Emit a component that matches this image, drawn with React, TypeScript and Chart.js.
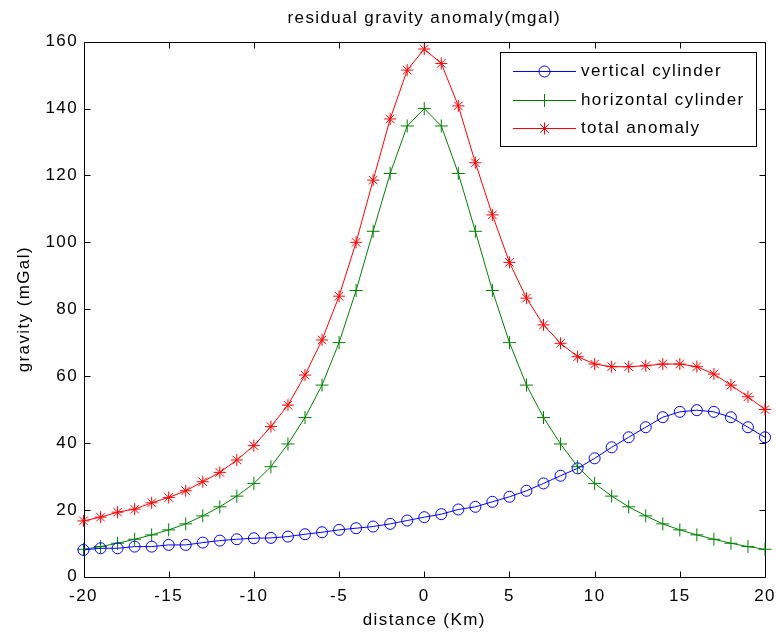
import React, { useEffect, useRef } from "react";
import { Chart, registerables } from "chart.js";
import { drawPoint } from "chart.js/helpers";

Chart.register(...registerables);

const distance = [
  -20, -19, -18, -17, -16, -15, -14, -13, -12, -11, -10, -9, -8, -7, -6, -5, -4, -3, -2, -1,
  0, 1, 2, 3, 4, 5, 6, 7, 8, 9, 10, 11, 12, 13, 14, 15, 16, 17, 18, 19, 20,
];

const verticalCylinder = [
  8.0, 8.5, 8.5, 9.0, 9.0, 9.5, 9.5, 10.2, 10.8, 11.2, 11.5, 11.6, 12.0, 12.7, 13.3, 14.0, 14.5, 15.0, 15.8, 16.8,
  17.8, 18.7, 20.1, 20.9, 22.4, 23.9, 25.7, 27.9, 30.2, 32.4, 35.4, 38.7, 41.7, 44.7, 47.7, 49.3, 49.8, 49.3, 47.7, 44.7, 41.7,
];

const horizontalCylinder = [
  8.2, 9.0, 10.0, 11.2, 12.5, 14.0, 15.8, 18.2, 20.9, 24.1, 27.9, 32.9, 39.7, 47.6, 57.3, 70.0, 85.6, 103.3, 120.6, 134.8,
  140.0, 134.8, 120.6, 103.3, 85.6, 70.0, 57.3, 47.6, 39.7, 32.9, 27.9, 24.1, 20.9, 18.2, 15.8, 14.0, 12.5, 11.2, 10.0, 9.0, 8.2,
];

const totalAnomaly = [
  16.7, 17.8, 19.3, 20.2, 22.1, 23.7, 25.7, 28.4, 31.2, 34.9, 39.2, 44.9, 51.3, 60.3, 70.8, 83.9, 100.0, 118.6, 136.9, 151.5,
  157.8, 153.5, 140.8, 123.8, 108.2, 94.0, 83.3, 75.3, 69.8, 65.8, 63.6, 62.8, 62.8, 63.1, 63.6, 63.6, 62.8, 60.6, 57.3, 53.8, 50.0,
];

const seriesLabels = ["vertical cylinder", "horizontal cylinder", "total anomaly"];
const titleText = "residual gravity anomaly(mgal)";
const xTitle = "distance (Km)";
const yTitle = "gravity (mGal)";

const FONT = '"Liberation Sans", Arial, Helvetica, sans-serif';
const LS = "1.4px";

const spacingPlugin = {
  id: "spacing",
  beforeUpdate(chart: any) {
    (chart.ctx as any).letterSpacing = LS;
  },
  beforeLayout(chart: any) {
    (chart.ctx as any).letterSpacing = LS;
  },
  beforeDraw(chart: any) {
    (chart.ctx as any).letterSpacing = LS;
  },
};

const framePlugin = {
  id: "frame",
  beforeDatasetsDraw(chart: any) {
    const { ctx, chartArea, scales } = chart;
    const { left, right, top, bottom } = chartArea;
    const L = Math.round(left) + 0.5;
    const R = Math.round(right) + 0.5;
    const T = Math.round(top) + 0.5;
    const B = Math.round(bottom) + 0.5;
    const tl = 6;
    ctx.save();
    ctx.strokeStyle = "#000";
    ctx.lineWidth = 1;
    ctx.beginPath();
    ctx.rect(L, T, R - L, B - T);
    scales.x.ticks.forEach((t: any) => {
      const px = Math.round(scales.x.getPixelForValue(t.value)) + 0.5;
      ctx.moveTo(px, B);
      ctx.lineTo(px, B - tl);
      ctx.moveTo(px, T);
      ctx.lineTo(px, T + tl);
    });
    scales.y.ticks.forEach((t: any) => {
      const py = Math.round(scales.y.getPixelForValue(t.value)) + 0.5;
      ctx.moveTo(L, py);
      ctx.lineTo(L + tl, py);
      ctx.moveTo(R, py);
      ctx.lineTo(R - tl, py);
    });
    ctx.stroke();
    ctx.restore();
  },
};

const legendPlugin = {
  id: "boxLegend",
  afterDraw(chart: any) {
    const { ctx, chartArea } = chart;
    const ds = chart.data.datasets;
    ctx.save();
    (ctx as any).letterSpacing = LS;
    ctx.font = `17px ${FONT}`;
    const textW = Math.max(...ds.map((d: any) => ctx.measureText(d.label).width));
    const w = Math.round(81 + textW + 11);
    const h = 94;
    const boxRight = Math.round(chartArea.right - 9);
    const boxTop = Math.round(chartArea.top + 10);
    const boxLeft = boxRight - w;
    ctx.fillStyle = "#fff";
    ctx.fillRect(boxLeft, boxTop, w, h);
    ctx.strokeStyle = "#000";
    ctx.lineWidth = 1;
    ctx.strokeRect(boxLeft + 0.5, boxTop + 0.5, w, h);
    ds.forEach((d: any, i: number) => {
      const cy = Math.round(boxTop + 19 + i * 28.6) + 0.5;
      ctx.strokeStyle = d.borderColor;
      ctx.lineWidth = 1;
      ctx.beginPath();
      ctx.moveTo(boxLeft + 13, cy);
      ctx.lineTo(boxLeft + 76, cy);
      ctx.stroke();
      ctx.fillStyle = "rgba(0,0,0,0)";
      ctx.strokeStyle = d.pointBorderColor;
      drawPoint(ctx, { pointStyle: d.pointStyle, radius: d.pointRadius, borderWidth: 1, rotation: 0 } as any, boxLeft + 44.5, cy);
      ctx.fillStyle = "#000";
      ctx.textAlign = "left";
      ctx.textBaseline = "middle";
      ctx.fillText(d.label, boxLeft + 81, cy);
    });
    ctx.restore();
  },
};

export default function App() {
  const ref = useRef<HTMLCanvasElement | null>(null);

  useEffect(() => {
    if (!ref.current) return;
    const mk = (vals: number[]) => distance.map((x, i) => ({ x, y: vals[i] }));
    const chart = new Chart(ref.current, {
      type: "line",
      data: {
        datasets: [
          {
            label: seriesLabels[0],
            data: mk(verticalCylinder),
            borderColor: "#0000ff",
            borderWidth: 1,
            pointStyle: "circle",
            pointRadius: 5.5,
            pointBorderWidth: 1,
            pointBorderColor: "#0000ff",
            pointBackgroundColor: "rgba(0,0,0,0)",
            backgroundColor: "rgba(0,0,0,0)",
            tension: 0,
            clip: false as any,
          },
          {
            label: seriesLabels[1],
            data: mk(horizontalCylinder),
            borderColor: "#008000",
            borderWidth: 1,
            pointStyle: "cross",
            pointRadius: 6.5,
            pointBorderWidth: 1,
            pointBorderColor: "#008000",
            pointBackgroundColor: "rgba(0,0,0,0)",
            backgroundColor: "rgba(0,0,0,0)",
            tension: 0,
            clip: false as any,
          },
          {
            label: seriesLabels[2],
            data: mk(totalAnomaly),
            borderColor: "#ff0000",
            borderWidth: 1,
            pointStyle: "star",
            pointRadius: 6,
            pointBorderWidth: 1,
            pointBorderColor: "#ff0000",
            pointBackgroundColor: "rgba(0,0,0,0)",
            backgroundColor: "rgba(0,0,0,0)",
            tension: 0,
            clip: false as any,
          },
        ],
      },
      options: {
        responsive: false,
        animation: false,
        devicePixelRatio: 1,
        layout: { padding: { left: 0, right: 11, top: 0, bottom: 0 } },
        font: { family: FONT, size: 17 } as any,
        plugins: {
          legend: { display: false },
          tooltip: { enabled: false },
          title: {
            display: true,
            fullSize: false,
            text: titleText,
            color: "#000",
            font: { family: FONT, size: 17, weight: "normal" },
            padding: { top: 8, bottom: 13.3 },
          },
        },
        scales: {
          x: {
            type: "linear",
            min: -20,
            max: 20,
            grid: { display: false, drawTicks: false },
            border: { display: false },
            ticks: {
              stepSize: 5,
              color: "#000",
              font: { family: FONT, size: 17 },
              padding: 9,
              maxRotation: 0,
            },
            title: {
              display: true,
              text: xTitle,
              color: "#000",
              font: { family: FONT, size: 17 },
              padding: { top: 0, bottom: 4 },
            },
            afterFit: (s: any) => {
              s.height = 58.3;
              s.paddingRight = 0;
              s.paddingLeft = 0;
            },
          },
          y: {
            type: "linear",
            min: 0,
            max: 160,
            grid: { display: false, drawTicks: false },
            border: { display: false },
            ticks: {
              stepSize: 20,
              color: "#000",
              font: { family: FONT, size: 17 },
              padding: 5.5,
            },
            title: {
              display: true,
              text: yTitle,
              color: "#000",
              font: { family: FONT, size: 17 },
              padding: { top: 14, bottom: 0 },
            },
            afterFit: (s: any) => {
              s.width = 83.5;
              s.paddingTop = 0;
              s.paddingBottom = 0;
            },
          },
        },
      },
      plugins: [spacingPlugin, framePlugin, legendPlugin],
    });
    return () => chart.destroy();
  }, []);

  return (
    <div style={{ position: "absolute", left: 0, top: 0, width: 776, height: 635, background: "#fff" }}>
      <canvas ref={ref} width={776} height={635} style={{ display: "block" }} />
    </div>
  );
}
